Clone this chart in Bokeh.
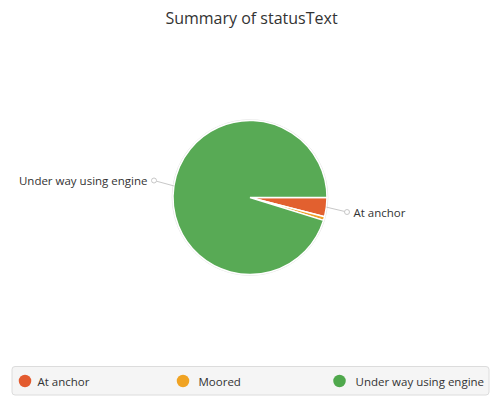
import numpy as np
from bokeh.plotting import figure
from bokeh.models import Range1d, BoxAnnotation, ColumnDataSource
from bokeh.core.properties import value
from bokeh.embed import file_html
from bokeh.resources import INLINE

# ---- data ----
categories = ["At anchor", "Moored", "Under way using engine"]
shares = [4.0, 0.8, 95.2]
colors = ["#e2602f", "#eea12a", "#58aa55"]
legend_colors = ["#e35b2f", "#f0a323", "#4fa84c"]
title_text = "Summary of statusText"

FONT = "Open Sans"
W, H = 500, 400

def Y(py):
    # page pixel y -> data y
    return 400 - py

p = figure(width=W, height=H, output_backend="svg", toolbar_location=None,
           x_range=Range1d(0, W), y_range=Range1d(0, H),
           min_border=0, outline_line_color=None)
p.axis.visible = False
p.grid.visible = False
p.background_fill_color = "white"
p.border_fill_color = "white"

# title
p.text(x=[251], y=[Y(17)], text=[title_text], text_font=value(FONT),
       text_font_size="16px", text_color="#333333", text_align="center",
       text_baseline="middle")

# pie
cx, cy, r = 249.5, Y(197), 77
vals = np.array(shares, dtype=float)
ang = vals / vals.sum() * 2 * np.pi
ends = np.cumsum(ang)
starts = ends - ang
src = ColumnDataSource(dict(start=-ends, end=-starts, color=colors))
p.circle(x=[cx], y=[cy], radius=r + 0.8, fill_color=None, line_color="#e4e4e4", line_width=1)
p.wedge(x=cx, y=cy, radius=r, start_angle="start", end_angle="end",
        fill_color="color", line_color="white", line_width=1.5, source=src)

# data labels with connectors
mids = -(starts + ends) / 2
label_idx = [0, 2]
for i in label_idx:
    m = mids[i]
    ex, ey = cx + r * np.cos(m), cy + r * np.sin(m)
    if np.cos(m) > 0:
        dx, dy = 346.5, Y(211.5)
        tx, align = 353, "left"
    else:
        dx, dy = 153.5, Y(180)
        tx, align = 147, "right"
    p.line(x=[ex, dx], y=[ey, dy], line_color="#c8c8c8", line_width=1)
    p.scatter(x=[dx], y=[dy], size=5, marker="circle", fill_color="white",
              line_color="#c8c8c8", line_width=1)
    p.text(x=[tx], y=[dy], text=[categories[i]], text_font=value(FONT),
           text_font_size="11.5px", text_color="#333333", text_align=align,
           text_baseline="middle")

# legend
box = BoxAnnotation(left=11.5, right=488.5, bottom=Y(394.5), top=Y(366),
                    fill_color="#f5f5f5", fill_alpha=1, line_color="#dcdcdc",
                    line_alpha=1, line_width=1, border_radius=3, level="underlay")
p.add_layout(box)
leg_marker_x = [24.5, 182.5, 339]
leg_text_x = [37, 198, 355]
ly = Y(380.5)
p.scatter(x=leg_marker_x, y=[ly] * 3, size=12.5, marker="circle",
          fill_color=legend_colors, line_color=None)
p.text(x=leg_text_x, y=[ly] * 3, text=categories, text_font=value(FONT),
       text_font_size="11.5px", text_color="#333333", text_align="left",
       text_baseline="middle")

open("out.html", "w").write(file_html(p, INLINE))
